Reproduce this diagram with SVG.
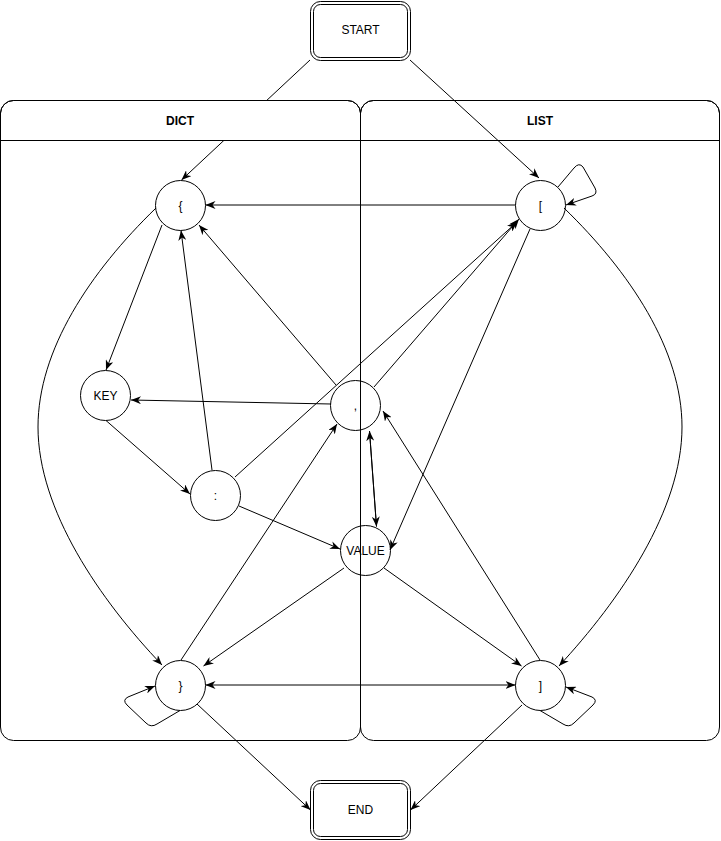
<svg xmlns="http://www.w3.org/2000/svg" width="721" height="841" viewBox="0 0 721 841">
<style>
  text { font-family: "Liberation Sans", Arial, sans-serif; font-size: 12px; fill: #000; text-anchor: middle; }
  .hdr { font-weight: bold; }
  .lane { fill: none; stroke: #000; stroke-width: 1; }
  .lanehead { fill: #fff; stroke: #000; stroke-width: 1; }
  .node { fill: #fff; stroke: #000; stroke-width: 1; }
  .term { fill: #fff; stroke: #000; stroke-width: 1; }
  .edge { fill: none; stroke: #000; stroke-width: 1; marker-end: url(#arrow); }
  .both { marker-start: url(#arrow); }
</style>
<defs>
  <marker id="arrow" viewBox="0 0 10 8" refX="10" refY="4" markerWidth="10" markerHeight="8" markerUnits="userSpaceOnUse" orient="auto-start-reverse">
    <path d="M0,0 L10,4 L0,8 L3,4 Z" fill="#000" stroke="none"/>
  </marker>
</defs>
<rect width="721" height="841" fill="#fff"/>

<!-- LIST lane (below edges) -->
<g id="lane-list">
  <path class="lanehead" d="M360.5,140.5 V113 A13,13 0 0 1 373.5,100.5 H706.5 A13,13 0 0 1 719.5,113 V140.5 Z"/>
  <path class="lane" d="M360.5,113 A13,13 0 0 1 373.5,100.5 H706.5 A13,13 0 0 1 719.5,113 V727 A13,13 0 0 1 706.5,740.5 H373.5 A13,13 0 0 1 360.5,727 Z"/>
  <text class="hdr" x="540" y="125">LIST</text>
</g>

<!-- Nodes -->
<g id="node-start">
  <rect class="term" x="310.5" y="1.5" width="100" height="59" rx="10"/>
  <rect class="term" x="313.5" y="4.5" width="94" height="53" rx="7"/>
  <text x="360.5" y="34">START</text>
</g>
<g id="node-end">
  <rect class="term" x="310.5" y="780.5" width="100" height="59" rx="10"/>
  <rect class="term" x="313.5" y="783.5" width="94" height="53" rx="7"/>
  <text x="360.5" y="814">END</text>
</g>
<g id="node-lbrace">
  <circle class="node" cx="180.5" cy="205.5" r="25"/>
  <text x="180.5" y="209.5">{</text>
</g>
<g id="node-lbracket">
  <circle class="node" cx="540.5" cy="205.5" r="25"/>
  <text x="540.5" y="209.5">[</text>
</g>
<g id="node-key">
  <circle class="node" cx="105.5" cy="395.5" r="25"/>
  <text x="105.5" y="399.5">KEY</text>
</g>
<g id="node-comma">
  <circle class="node" cx="355.5" cy="405.5" r="25"/>
  <text x="355.5" y="409.5">,</text>
</g>
<g id="node-colon">
  <circle class="node" cx="215.5" cy="495.5" r="25"/>
  <text x="215.5" y="499.5">:</text>
</g>
<g id="node-value">
  <circle class="node" cx="365.5" cy="550.5" r="25"/>
  <text x="365.5" y="554.5">VALUE</text>
</g>
<g id="node-rbrace">
  <circle class="node" cx="180.5" cy="685.5" r="25"/>
  <text x="180.5" y="689.5">}</text>
</g>
<g id="node-rbracket">
  <circle class="node" cx="540.5" cy="685.5" r="25"/>
  <text x="540.5" y="689.5">]</text>
</g>

<!-- Connectors -->
<g id="connectors">
  <path class="edge" d="M310,60 L181.5,180"/>
  <path class="edge" d="M410,60 L539,178"/>
  <path class="edge" d="M515.5,205 L205.5,205"/>
  <path class="edge" d="M558,187 L574,168 Q579,162 583,167 L595,188 Q598,194 592,196 L566,205"/>
  <path class="edge" d="M564,208 C630,272 682,350 682,427 C682,510 620,600 559,666"/>
  <path class="edge" d="M156,208 C90,272 38,350 38,427 C38,510 100,600 162,665"/>
  <path class="edge" d="M162,225 L106,370"/>
  <path class="edge" d="M106,420.5 L190,494"/>
  <path class="edge" d="M212,470 L181,230.5"/>
  <path class="edge" d="M235,477 L517,222"/>
  <path class="edge" d="M239,506 L340,549"/>
  <path class="edge" d="M336,385 L199,225"/>
  <path class="edge" d="M331,404 L131,400"/>
  <path class="edge" d="M374,387 L519,219"/>
  <path class="edge" d="M530,229 L390,550"/>
  <path class="edge" d="M376.5,526.5 L369.5,431"/>
  <path class="edge" d="M369.5,431 L376.5,526.5"/>
  <path class="edge" d="M540,660 L383,411"/>
  <path class="edge" d="M344,568 L203.5,666"/>
  <path class="edge" d="M384,568 L521.5,666"/>
  <path class="edge" d="M181,660 L337,424"/>
  <path class="edge both" d="M205.5,685 L515.5,685"/>
  <path class="edge" d="M180,710.5 L157,724 Q151,728 146,723 L127,705 Q122,700 128,697 L155,686"/>
  <path class="edge" d="M540,710.5 L563,724 Q569,728 574,723 L593,705 Q598,700 592,697 L566,687"/>
  <path class="edge" d="M197,704 L310.5,810"/>
  <path class="edge" d="M522,705 L410.5,810"/>
</g>

<!-- DICT lane (above edges) -->
<g id="lane-dict">
  <path class="lanehead" d="M0.5,140.5 V113 A13,13 0 0 1 13.5,100.5 H347.5 A13,13 0 0 1 360.5,113 V140.5 Z"/>
  <path class="lane" d="M0.5,113 A13,13 0 0 1 13.5,100.5 H347.5 A13,13 0 0 1 360.5,113 V727 A13,13 0 0 1 347.5,740.5 H13.5 A13,13 0 0 1 0.5,727 Z"/>
  <text class="hdr" x="180" y="125">DICT</text>
</g>
</svg>
